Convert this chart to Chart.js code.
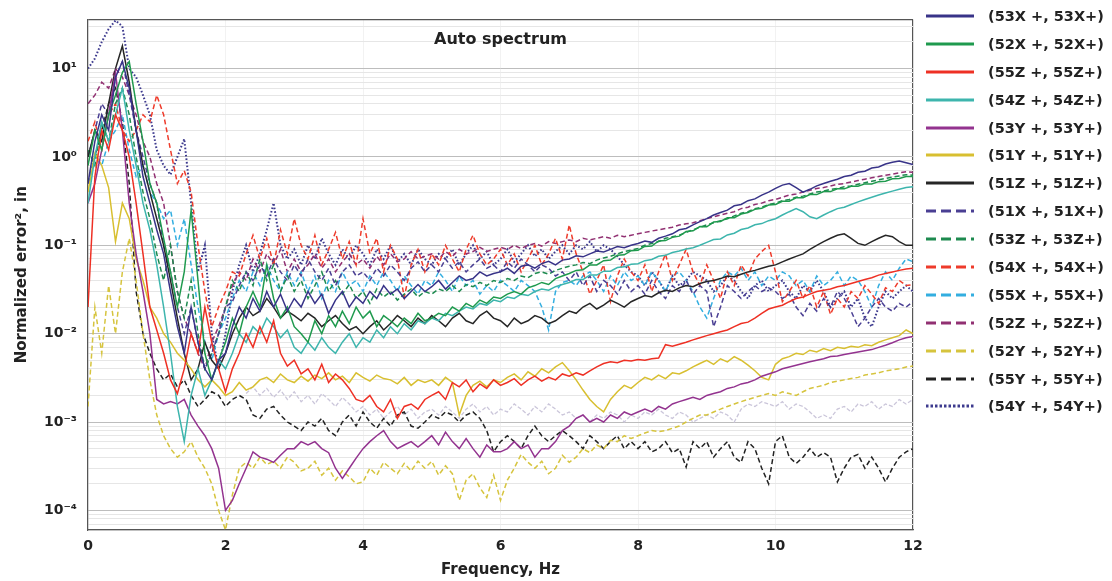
<!DOCTYPE html>
<html lang="en">
<head>
  <meta charset="UTF-8">
  <title>Auto spectrum</title>
  <script src="https://cdn.jsdelivr.net/npm/chart.js"></script>
  <style>
    html, body { margin: 0; padding: 0; background: #fff; }
    #wrap { position: relative; width: 1112px; height: 581px; }
    #legend { position: absolute; left: 926px; top: 2px; font: bold 14.5px "DejaVu Sans", sans-serif; color: #222; }
    .row { height: 27.9px; display: flex; align-items: center; white-space: nowrap; }
    .row svg { margin-right: 14px; flex: none; }
  </style>
</head>
<body>
  <div id="wrap">
    <canvas id="chart" width="1112" height="581"></canvas>
    <div id="legend"></div>
  </div>

  <script>
    // frequency grid, Hz (0.1 Hz spacing)
    const freq = Array.from({ length: 121 }, (_, i) => +(i * 0.1).toFixed(1));

    const yMin = 6e-5;
    const yMax = 36;
    const yMajor = [1e-4, 1e-3, 1e-2, 1e-1, 1, 10];
    const yLabels = ['10⁻⁴', '10⁻³', '10⁻²', '10⁻¹', '10⁰', '10¹'];
    const yDecades = [1e-5, 1e-4, 1e-3, 1e-2, 1e-1, 1, 10];

    const s53X = [0.5,1.5,3,2,8,12,6,2,0.6,0.3,
      0.15,0.08,0.03,0.012,0.006,0.02,0.008,0.004,0.003,0.005,
      0.006,0.012,0.02,0.015,0.025,0.018,0.03,0.02,0.028,0.018,
      0.025,0.02,0.03,0.022,0.028,0.017,0.024,0.03,0.02,0.026,
      0.022,0.03,0.025,0.035,0.028,0.032,0.025,0.03,0.036,0.03,
      0.034,0.04,0.032,0.038,0.045,0.04,0.042,0.05,0.045,0.048,
      0.05,0.055,0.048,0.058,0.06,0.055,0.062,0.066,0.06,0.068,
      0.07,0.076,0.074,0.08,0.086,0.084,0.09,0.097,0.094,0.1,
      0.105,0.112,0.108,0.12,0.127,0.135,0.15,0.155,0.17,0.185,
      0.2,0.22,0.235,0.25,0.28,0.29,0.32,0.335,0.37,0.4,
      0.44,0.48,0.5,0.45,0.4,0.43,0.47,0.5,0.53,0.56,
      0.6,0.62,0.67,0.69,0.75,0.77,0.83,0.87,0.9,0.86,0.82];

    const s52X = [0.8,2,1.2,3,5,9,12,4,1.5,0.5,
      0.3,0.12,0.05,0.02,0.05,0.25,0.04,0.006,0.003,0.005,
      0.008,0.015,0.01,0.02,0.03,0.02,0.06,0.025,0.015,0.02,
      0.012,0.01,0.008,0.014,0.01,0.016,0.012,0.018,0.013,0.02,
      0.015,0.018,0.012,0.016,0.014,0.012,0.015,0.013,0.017,0.014,
      0.015,0.017,0.016,0.02,0.018,0.022,0.02,0.024,0.022,0.026,
      0.025,0.028,0.03,0.028,0.033,0.035,0.038,0.036,0.042,0.045,
      0.048,0.052,0.053,0.06,0.06,0.067,0.068,0.077,0.078,0.087,
      0.088,0.097,0.098,0.112,0.113,0.123,0.127,0.143,0.146,0.163,
      0.162,0.183,0.186,0.205,0.205,0.226,0.235,0.255,0.262,0.285,
      0.29,0.315,0.315,0.345,0.345,0.375,0.375,0.405,0.405,0.435,
      0.435,0.465,0.465,0.495,0.495,0.525,0.53,0.565,0.57,0.6,0.6];

    const s55Z = [0.02,0.6,2,1.2,3,2,1,0.3,0.08,0.02,
      0.011,0.006,0.003,0.0021,0.004,0.01,0.006,0.02,0.008,0.004,
      0.0022,0.004,0.006,0.01,0.007,0.012,0.008,0.014,0.006,0.0043,
      0.005,0.0035,0.004,0.003,0.0045,0.0028,0.0035,0.003,0.0024,0.0018,
      0.0017,0.002,0.0015,0.0013,0.0018,0.0011,0.0015,0.0016,0.0014,0.0018,
      0.002,0.0022,0.0018,0.0028,0.0025,0.003,0.0022,0.0027,0.0024,0.003,
      0.0026,0.0028,0.0031,0.0026,0.003,0.0033,0.0029,0.0032,0.003,0.0035,
      0.0033,0.0036,0.0034,0.0038,0.0042,0.0046,0.0048,0.0047,0.005,0.0049,
      0.0051,0.005,0.0052,0.0053,0.0075,0.0072,0.0076,0.008,0.0085,0.009,
      0.0095,0.01,0.0105,0.011,0.012,0.013,0.0135,0.015,0.017,0.019,
      0.02,0.021,0.023,0.025,0.026,0.028,0.03,0.031,0.032,0.034,
      0.035,0.037,0.039,0.041,0.043,0.046,0.048,0.05,0.052,0.054,0.055];

    const s54Z = [0.3,1,2.5,1.5,3,6,2,0.8,0.3,0.15,
      0.06,0.02,0.006,0.0015,0.0006,0.002,0.004,0.002,0.003,0.005,
      0.004,0.006,0.01,0.008,0.012,0.01,0.015,0.012,0.009,0.011,
      0.007,0.006,0.008,0.0065,0.009,0.007,0.006,0.008,0.01,0.007,
      0.009,0.008,0.011,0.009,0.012,0.01,0.013,0.011,0.014,0.013,
      0.015,0.014,0.017,0.016,0.018,0.02,0.019,0.022,0.021,0.024,
      0.023,0.026,0.025,0.028,0.027,0.03,0.032,0.031,0.034,0.036,
      0.038,0.041,0.041,0.046,0.046,0.051,0.051,0.056,0.057,0.061,
      0.062,0.067,0.069,0.075,0.077,0.083,0.086,0.091,0.094,0.1,
      0.108,0.116,0.118,0.131,0.137,0.151,0.157,0.171,0.176,0.19,
      0.2,0.22,0.24,0.26,0.24,0.21,0.2,0.22,0.24,0.26,
      0.27,0.29,0.31,0.33,0.35,0.37,0.39,0.41,0.43,0.45,0.46];

    const s53Y = [0.3,0.5,1.2,3,9,2,0.3,0.08,0.03,0.01,
      0.0018,0.0016,0.0017,0.0016,0.0018,0.0012,0.0009,0.0007,0.0005,0.0003,
      0.0001,0.00013,0.0002,0.0003,0.00046,0.0004,0.00038,0.00035,0.00042,0.0005,
      0.0005,0.0006,0.00055,0.0006,0.0005,0.00045,0.0003,0.00023,0.0003,0.00039,
      0.0005,0.0006,0.0007,0.0008,0.0006,0.0005,0.00055,0.0006,0.00052,0.0006,
      0.0007,0.00055,0.00077,0.0006,0.0005,0.00065,0.0005,0.0004,0.00055,0.00046,
      0.00046,0.0005,0.0006,0.0005,0.00055,0.0004,0.0005,0.0005,0.0006,0.0008,
      0.0009,0.0011,0.0012,0.001,0.0011,0.001,0.0012,0.0011,0.0013,0.0012,
      0.0013,0.0014,0.0013,0.0015,0.0014,0.0016,0.0017,0.0018,0.0019,0.0018,
      0.002,0.0021,0.0022,0.0024,0.0025,0.0027,0.0028,0.003,0.0033,0.0035,
      0.0037,0.004,0.0042,0.0044,0.0046,0.0048,0.005,0.0052,0.0055,0.0056,
      0.0058,0.006,0.0062,0.0064,0.0066,0.007,0.0074,0.0079,0.0085,0.009,0.0093];

    const s51Y = [0.4,1.1,0.8,0.45,0.11,0.3,0.2,0.07,0.04,0.02,
      0.015,0.01,0.008,0.006,0.005,0.004,0.003,0.0025,0.003,0.0025,
      0.002,0.0022,0.0028,0.0023,0.0025,0.003,0.0032,0.0028,0.0035,0.003,
      0.0028,0.0033,0.0029,0.0034,0.0031,0.0036,0.003,0.0033,0.0028,0.0036,
      0.0032,0.0029,0.0034,0.0031,0.003,0.0027,0.0032,0.0026,0.003,0.0028,
      0.003,0.0026,0.0032,0.0028,0.0012,0.002,0.0026,0.0029,0.0025,0.003,
      0.0028,0.0032,0.0035,0.003,0.0037,0.0033,0.004,0.0036,0.0042,0.0047,
      0.0038,0.003,0.0023,0.0018,0.0015,0.0013,0.0018,0.0022,0.0026,0.0024,
      0.0028,0.0032,0.003,0.0034,0.0031,0.0036,0.0035,0.0038,0.0042,0.0046,
      0.005,0.0045,0.0052,0.0048,0.0055,0.005,0.0044,0.0038,0.0032,0.003,
      0.0045,0.0052,0.0055,0.006,0.0058,0.0065,0.0062,0.0068,0.0064,0.007,
      0.0068,0.0072,0.007,0.0075,0.0073,0.008,0.0085,0.009,0.0095,0.011,0.01];

    const s51Z = [1,2,1.5,4,10,18,7,2,0.8,0.4,
      0.2,0.1,0.04,0.015,0.006,0.003,0.004,0.008,0.005,0.004,
      0.006,0.01,0.015,0.02,0.016,0.018,0.025,0.02,0.015,0.018,
      0.016,0.014,0.017,0.015,0.012,0.014,0.016,0.013,0.011,0.012,
      0.01,0.012,0.014,0.011,0.013,0.016,0.014,0.012,0.015,0.013,
      0.016,0.014,0.012,0.015,0.017,0.014,0.013,0.016,0.018,0.015,
      0.014,0.012,0.015,0.013,0.014,0.016,0.015,0.013,0.014,0.016,
      0.018,0.017,0.02,0.022,0.019,0.021,0.024,0.022,0.02,0.023,
      0.025,0.027,0.026,0.029,0.031,0.03,0.033,0.035,0.034,0.037,
      0.039,0.04,0.042,0.045,0.044,0.047,0.05,0.052,0.055,0.058,
      0.06,0.065,0.07,0.075,0.08,0.09,0.1,0.11,0.12,0.13,
      0.135,0.12,0.105,0.1,0.11,0.12,0.13,0.125,0.11,0.1,0.1];

    const s51X = [1,2,4,3,8,12,5,2,1,0.5,
      0.3,0.1,0.05,0.02,0.01,0.02,0.008,0.004,0.006,0.01,
      0.02,0.023,0.035,0.05,0.04,0.06,0.045,0.07,0.05,0.04,
      0.06,0.045,0.07,0.05,0.04,0.055,0.035,0.05,0.06,0.045,
      0.05,0.04,0.055,0.045,0.06,0.05,0.04,0.055,0.065,0.05,
      0.06,0.05,0.07,0.055,0.065,0.05,0.06,0.07,0.055,0.06,
      0.05,0.065,0.055,0.07,0.06,0.05,0.06,0.055,0.045,0.05,
      0.04,0.05,0.035,0.045,0.03,0.04,0.035,0.028,0.04,0.03,
      0.035,0.028,0.04,0.03,0.025,0.035,0.03,0.04,0.028,0.035,
      0.03,0.012,0.02,0.035,0.03,0.025,0.03,0.035,0.03,0.033,
      0.03,0.025,0.028,0.02,0.016,0.022,0.018,0.025,0.02,0.03,
      0.025,0.018,0.012,0.015,0.02,0.025,0.02,0.018,0.022,0.02,0.023];

    const s53Z = [1.2,0.8,2.5,1.5,4,6,3,1,0.4,0.2,
      0.08,0.04,0.1,0.03,0.015,0.04,0.01,0.004,0.006,0.01,
      0.02,0.04,0.03,0.05,0.035,0.07,0.04,0.06,0.03,0.045,
      0.03,0.04,0.025,0.035,0.05,0.03,0.04,0.028,0.036,0.025,
      0.03,0.022,0.032,0.026,0.03,0.024,0.028,0.032,0.026,0.03,
      0.028,0.032,0.03,0.035,0.03,0.036,0.034,0.038,0.035,0.04,
      0.038,0.042,0.04,0.045,0.043,0.048,0.05,0.047,0.052,0.055,
      0.058,0.06,0.064,0.062,0.068,0.072,0.075,0.08,0.085,0.088,
      0.092,0.1,0.105,0.11,0.12,0.125,0.13,0.14,0.15,0.16,
      0.17,0.18,0.19,0.2,0.215,0.23,0.24,0.26,0.27,0.29,
      0.3,0.32,0.33,0.35,0.36,0.38,0.4,0.41,0.43,0.44,
      0.46,0.47,0.49,0.51,0.53,0.55,0.57,0.59,0.61,0.63,0.62];

    const s54X = [1.5,2.5,1.2,3,4,2,1.5,2,3,2.5,
      5,3,1.2,0.5,0.7,0.4,0.1,0.03,0.012,0.02,
      0.03,0.05,0.045,0.08,0.13,0.07,0.12,0.06,0.15,0.08,
      0.2,0.1,0.07,0.13,0.06,0.09,0.14,0.07,0.11,0.06,
      0.2,0.08,0.12,0.05,0.1,0.07,0.026,0.06,0.09,0.05,
      0.08,0.06,0.1,0.07,0.05,0.09,0.13,0.08,0.06,0.07,
      0.09,0.06,0.08,0.05,0.07,0.1,0.06,0.08,0.12,0.07,
      0.17,0.08,0.05,0.028,0.04,0.06,0.023,0.045,0.07,0.05,
      0.04,0.06,0.03,0.05,0.08,0.04,0.06,0.09,0.05,0.035,
      0.06,0.04,0.025,0.05,0.035,0.06,0.045,0.07,0.085,0.1,
      0.05,0.023,0.03,0.04,0.025,0.035,0.02,0.03,0.0165,0.025,
      0.02,0.03,0.025,0.035,0.028,0.022,0.033,0.03,0.04,0.035,0.036];

    const s55X = [0.5,1,0.8,1.5,2,3,1.2,0.6,0.8,0.4,
      0.3,0.2,0.25,0.1,0.2,0.06,0.02,0.008,0.005,0.01,
      0.015,0.025,0.04,0.03,0.05,0.035,0.06,0.04,0.03,0.05,
      0.035,0.05,0.03,0.045,0.025,0.04,0.03,0.05,0.035,0.04,
      0.03,0.045,0.035,0.05,0.04,0.03,0.045,0.035,0.028,0.04,
      0.035,0.05,0.04,0.03,0.045,0.035,0.04,0.028,0.035,0.03,
      0.04,0.035,0.03,0.04,0.035,0.03,0.02,0.011,0.03,0.038,
      0.04,0.035,0.045,0.05,0.04,0.03,0.045,0.035,0.05,0.04,
      0.045,0.035,0.05,0.04,0.03,0.045,0.05,0.04,0.03,0.02,
      0.015,0.025,0.04,0.05,0.045,0.055,0.04,0.05,0.035,0.045,
      0.04,0.05,0.045,0.035,0.04,0.03,0.045,0.035,0.04,0.05,
      0.035,0.045,0.04,0.03,0.02,0.035,0.05,0.04,0.055,0.07,0.065];

    const s52Z = [4,5,7,6,10,8,5,3,1.5,1,
      0.5,0.3,0.1,0.03,0.015,0.01,0.006,0.004,0.008,0.012,
      0.02,0.035,0.05,0.04,0.07,0.05,0.08,0.06,0.09,0.05,
      0.07,0.05,0.06,0.08,0.055,0.07,0.05,0.065,0.08,0.06,
      0.07,0.055,0.075,0.06,0.08,0.065,0.07,0.085,0.07,0.075,
      0.08,0.07,0.085,0.075,0.09,0.08,0.085,0.095,0.085,0.09,
      0.095,0.09,0.1,0.092,0.1,0.105,0.098,0.11,0.105,0.11,
      0.115,0.11,0.12,0.115,0.12,0.125,0.12,0.13,0.125,0.13,
      0.135,0.14,0.145,0.15,0.155,0.16,0.17,0.175,0.18,0.19,
      0.2,0.21,0.22,0.23,0.24,0.26,0.27,0.29,0.3,0.32,
      0.33,0.35,0.37,0.38,0.4,0.42,0.44,0.45,0.47,0.49,
      0.5,0.52,0.54,0.56,0.58,0.6,0.62,0.64,0.66,0.68,0.67];

    const s52Y = [0.0015,0.02,0.006,0.035,0.01,0.05,0.12,0.04,0.01,0.003,
      0.0012,0.0007,0.0005,0.0004,0.00046,0.0006,0.0004,0.0003,0.0002,0.0001,
      0.00006,0.00015,0.0003,0.00035,0.0003,0.0004,0.00033,0.00036,0.0003,0.0004,
      0.00035,0.00028,0.0003,0.00036,0.00025,0.0003,0.00022,0.00028,0.00024,0.0002,
      0.00021,0.0003,0.00025,0.00035,0.0003,0.00026,0.00034,0.00028,0.00036,0.0003,
      0.00036,0.00025,0.00032,0.00026,0.00013,0.00022,0.00026,0.00018,0.00014,0.00025,
      0.00013,0.00022,0.0003,0.00043,0.00035,0.0003,0.00036,0.00026,0.0003,0.00042,
      0.00035,0.0004,0.0005,0.00045,0.00055,0.0005,0.00062,0.0006,0.0007,0.00065,
      0.0007,0.00075,0.0008,0.00078,0.0008,0.00085,0.0009,0.001,0.0011,0.0012,
      0.0012,0.0013,0.0014,0.0015,0.0016,0.0017,0.0018,0.0019,0.002,0.0021,
      0.002,0.0022,0.0021,0.002,0.0022,0.0024,0.0025,0.0026,0.0028,0.0029,
      0.003,0.0031,0.0032,0.0034,0.0035,0.0036,0.0038,0.0039,0.004,0.0042,0.0043];

    const s55Y = [0.5,1,2,4,6,2.5,0.5,0.03,0.01,0.006,
      0.004,0.003,0.0035,0.0025,0.003,0.002,0.0015,0.0018,0.0022,0.002,
      0.0015,0.0018,0.002,0.0018,0.0012,0.0011,0.0014,0.0015,0.0012,0.001,
      0.0009,0.0008,0.001,0.0009,0.0011,0.0008,0.0007,0.001,0.0012,0.0009,
      0.0013,0.001,0.00085,0.0011,0.0009,0.0012,0.0013,0.0009,0.00085,0.001,
      0.0012,0.0011,0.0013,0.0012,0.001,0.0012,0.0013,0.0011,0.0008,0.00046,
      0.0006,0.0007,0.0006,0.0005,0.0007,0.0009,0.0007,0.0006,0.0007,0.0008,
      0.0007,0.0006,0.0005,0.0007,0.0006,0.0005,0.0006,0.0007,0.0005,0.0006,
      0.0005,0.0006,0.00046,0.0005,0.0006,0.00045,0.0005,0.00031,0.0006,0.0005,
      0.0006,0.0004,0.0005,0.0006,0.0004,0.00035,0.0006,0.0005,0.0003,0.0002,
      0.0006,0.0007,0.0004,0.00034,0.0004,0.0005,0.0004,0.00045,0.0004,0.00021,
      0.0003,0.0004,0.00043,0.0003,0.0004,0.0003,0.00021,0.0003,0.0004,0.00046,0.0005];

    const s54Y = [10,13,20,28,35,30,10,8,5,3,
      1.2,0.8,0.63,1,1.6,0.3,0.05,0.1,0.01,0.004,
      0.01,0.03,0.06,0.1,0.05,0.08,0.15,0.3,0.1,0.07,
      0.09,0.06,0.1,0.07,0.12,0.08,0.06,0.09,0.07,0.1,
      0.08,0.06,0.09,0.07,0.1,0.065,0.08,0.06,0.09,0.07,
      0.06,0.08,0.07,0.09,0.06,0.08,0.1,0.07,0.085,0.06,
      0.07,0.09,0.065,0.08,0.1,0.075,0.09,0.07,0.085,0.1,
      0.08,0.1,0.09,0.11,0.085,0.1,0.09,0.075,0.06,0.05,
      0.045,0.035,0.05,0.04,0.03,0.045,0.035,0.04,0.05,0.045,
      0.04,0.03,0.035,0.045,0.04,0.03,0.025,0.035,0.04,0.03,
      0.035,0.04,0.03,0.025,0.035,0.03,0.04,0.03,0.02,0.025,
      0.03,0.02,0.025,0.015,0.012,0.02,0.03,0.025,0.03,0.035,0.03];

    // faint unlabelled trace seen in the figure
    const sFaint = [null,null,null,null,null,null,null,null,null,null,
      null,null,null,null,null,null,null,null,null,null,
      null,null,null,0.0021,0.0025,0.002,0.0024,0.0019,0.0023,0.0018,
      0.0022,0.0017,0.002,0.0016,0.0021,0.0018,0.0015,0.0019,0.0016,0.0013,
      0.0015,0.0012,0.0014,0.0011,0.0013,0.0015,0.0012,0.0014,0.0011,0.0013,
      0.0014,0.0012,0.0015,0.0013,0.0011,0.0014,0.0016,0.0013,0.0015,0.0012,
      0.0014,0.0013,0.0016,0.0014,0.0012,0.0015,0.0013,0.0016,0.0014,0.0012,
      0.0013,0.0011,0.0012,0.001,0.0012,0.0011,0.0013,0.0012,0.001,0.0012,
      0.0011,0.0013,0.0012,0.0014,0.0012,0.0011,0.0013,0.0012,0.001,0.0011,
      0.0012,0.0011,0.0013,0.0012,0.001,0.0014,0.0016,0.0015,0.0017,0.0016,
      0.0015,0.0017,0.0014,0.0016,0.0015,0.0013,0.0011,0.0012,0.0011,0.0014,
      0.0015,0.0013,0.0016,0.0015,0.0017,0.0014,0.0016,0.0015,0.0018,0.0016,0.0018];

    const names = ['(53X +, 53X+)', '(52X +, 52X+)', '(55Z +, 55Z+)', '(54Z +, 54Z+)', '(53Y +, 53Y+)',
      '(51Y +, 51Y+)', '(51Z +, 51Z+)', '(51X +, 51X+)', '(53Z +, 53Z+)', '(54X +, 54X+)',
      '(55X +, 55X+)', '(52Z +, 52Z+)', '(52Y +, 52Y+)', '(55Y +, 55Y+)', '(54Y +, 54Y+)'];
    const values = [s53X, s52X, s55Z, s54Z, s53Y, s51Y, s51Z, s51X, s53Z, s54X, s55X, s52Z, s52Y, s55Y, s54Y];
    const colors = ['#383388', '#1f9a4e', '#ee3024', '#3db5ad', '#93338f', '#d8bf30', '#262626',
      '#4a3f93', '#1d8a4f', '#ee3b2b', '#33aee0', '#913072', '#d6c43e', '#222222', '#3d3a8e'];
    const styles = ['solid', 'solid', 'solid', 'solid', 'solid', 'solid', 'solid',
      'dashed', 'dashed', 'dashed', 'dashed', 'dashed', 'dashed', 'dashed', 'dotted'];

    const plotDash = { solid: [], dashed: [5, 3], dotted: [1.6, 2] };
    const legendDash = { solid: 'none', dashed: '10 5', dotted: '2.5 2' };

    Chart.defaults.font.family = '"DejaVu Sans", sans-serif';
    Chart.defaults.color = '#222';

    function isMajor(v) {
      return yMajor.some(m => Math.abs(v / m - 1) < 1e-6);
    }

    const datasets = values.map((vals, k) => ({
      label: names[k],
      data: vals.map((v, i) => ({ x: freq[i], y: v })),
      borderColor: colors[k],
      borderWidth: styles[k] === 'dotted' ? 2 : 1.5,
      borderDash: plotDash[styles[k]],
      pointRadius: 0,
      fill: false
    }));
    datasets.push({
      label: 'faint',
      data: sFaint.map((v, i) => ({ x: freq[i], y: v })),
      borderColor: '#cbc6da',
      borderWidth: 1.3,
      borderDash: [4, 2],
      pointRadius: 0,
      fill: false
    });

    new Chart(document.getElementById('chart'), {
      type: 'line',
      data: { datasets: datasets },
      options: {
        responsive: false,
        animation: false,
        layout: { padding: { top: 9, right: 199, bottom: 0, left: 0 } },
        plugins: {
          legend: { display: false },
          tooltip: { enabled: false },
          title: {
            display: true,
            text: 'Auto spectrum',
            fullSize: false,
            color: '#222',
            font: { size: 16, weight: 'bold' },
            padding: { top: 12, bottom: -30 }
          }
        },
        scales: {
          x: {
            type: 'linear',
            min: 0,
            max: 12,
            ticks: { stepSize: 2, padding: 8, font: { size: 14, weight: 'bold' }, color: '#222' },
            grid: {
              drawTicks: false,
              color: c => c.tick && c.tick.value === 12 ? '#555' : 'rgba(0,0,0,0.05)',
              lineWidth: c => c.tick && c.tick.value === 12 ? 1.2 : 1
            },
            border: { color: '#555', width: 1.2 },
            title: { display: true, text: 'Frequency, Hz', font: { size: 15, weight: 'bold' }, padding: { top: 0, bottom: 2 } },
            afterFit: s => { s.height = 51; }
          },
          y: {
            type: 'logarithmic',
            min: yMin,
            max: yMax,
            afterBuildTicks: axis => {
              const t = [];
              yDecades.forEach(d => {
                for (let m = 1; m < 10; m++) {
                  const v = m * d;
                  if (v >= yMin && v < yMax) t.push({ value: v });
                }
              });
              t.push({ value: yMax });
              axis.ticks = t;
            },
            ticks: {
              autoSkip: false,
              padding: 11,
              font: { size: 14, weight: 'bold' },
              color: '#222',
              callback: v => {
                const i = yMajor.findIndex(m => Math.abs(v / m - 1) < 1e-6);
                return i >= 0 ? yLabels[i] : '';
              }
            },
            grid: {
              drawTicks: false,
              color: c => {
                const v = c.tick && c.tick.value;
                if (v === yMax) return '#555';
                return isMajor(v) ? '#bdbdbd' : '#e6e6e6';
              },
              lineWidth: c => c.tick && c.tick.value === yMax ? 1.2 : 1
            },
            border: { color: '#555', width: 1.2 },
            title: { display: true, text: 'Normalized error², in', font: { size: 15, weight: 'bold' }, padding: { top: 13, bottom: 0 } },
            afterFit: s => { s.width = 88; }
          }
        }
      }
    });

    // legend drawn as html rows
    const legend = document.getElementById('legend');
    names.forEach((name, k) => {
      const row = document.createElement('div');
      row.className = 'row';
      row.innerHTML = `
        <svg width="48" height="8"><line x1="0" y1="4" x2="48" y2="4" stroke="${colors[k]}" stroke-width="2.8" stroke-dasharray="${legendDash[styles[k]]}"/></svg>
        <span>${name}</span>`;
      legend.appendChild(row);
    });
  </script>
</body>
</html>
